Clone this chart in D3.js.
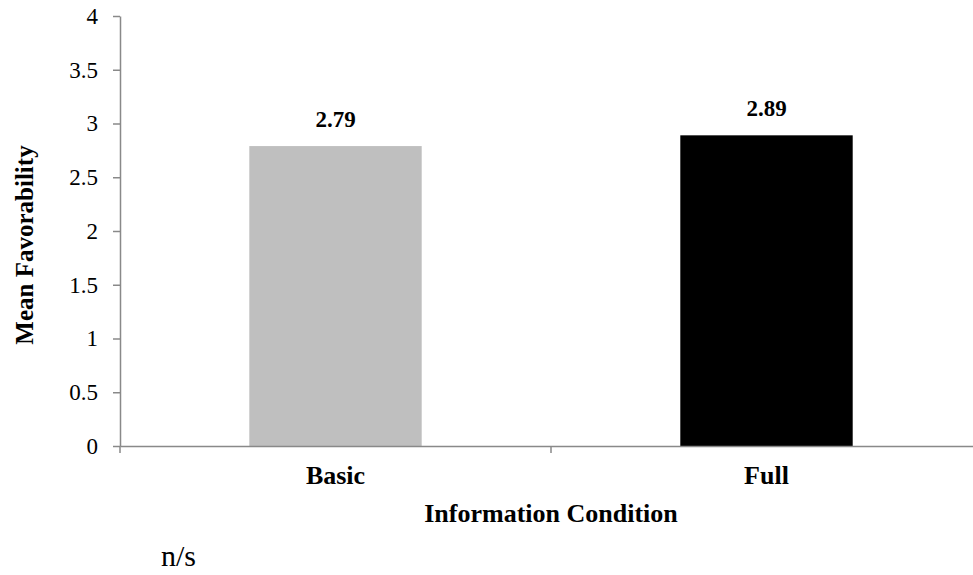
<!DOCTYPE html>
<html>
<head>
<meta charset="utf-8">
<script src="https://cdn.jsdelivr.net/npm/d3@7"></script>
<style>
  html, body { margin: 0; padding: 0; background: #fff; }
  svg { display: block; font-family: "Liberation Serif", "DejaVu Serif", serif; }
  svg text { font-family: "Liberation Serif", "DejaVu Serif", serif; }
</style>
</head>
<body>
<svg id="chart" width="973" height="575"></svg>
<script>
const categories = ["Basic", "Full"];
const meanFavorability = [2.79, 2.89];
const valueLabels = ["2.79", "2.89"];
const barColors = ["#bfbfbf", "#000000"];
const yTicks = [0, 0.5, 1, 1.5, 2, 2.5, 3, 3.5, 4];
const yTickLabels = ["0", "0.5", "1", "1.5", "2", "2.5", "3", "3.5", "4"];
const yTitle = "Mean Favorability";
const xTitle = "Information Condition";
const footnote = "n/s";

const svg = d3.select("#chart");
const mLeft = 120, mRight = 982, mTop = 16, mBottom = 446;
const axisColor = "#898989";

const x = d3.scaleBand().domain(categories).range([mLeft, mRight]).padding(0);
const y = d3.scaleLinear().domain([0, 4]).range([mBottom, mTop]);

// bars
svg.append("g").selectAll("rect")
  .data(categories)
  .join("rect")
  .attr("x", d => x(d) + x.bandwidth() * 0.3)
  .attr("width", x.bandwidth() * 0.4)
  .attr("y", (d, i) => y(meanFavorability[i]))
  .attr("height", (d, i) => y(0) - y(meanFavorability[i]))
  .attr("fill", (d, i) => barColors[i]);

// y axis
const yAxis = svg.append("g")
  .attr("transform", `translate(${mLeft},0)`)
  .call(d3.axisLeft(y).tickValues(yTicks).tickFormat((d, i) => yTickLabels[i]).tickSize(7).tickPadding(15).tickSizeOuter(0));
yAxis.attr("font-family", null).attr("font-size", null);
yAxis.select(".domain").attr("stroke", axisColor).attr("stroke-width", 1.5);
yAxis.selectAll(".tick line").attr("stroke", axisColor).attr("stroke-width", 1.5);
yAxis.selectAll(".tick text")
  .style("font-size", "23px")
  .style("font-family", "'Liberation Serif', serif")
  .attr("fill", "#000");

// x axis
const xAxis = svg.append("g")
  .attr("transform", `translate(0,${mBottom})`)
  .call(d3.axisBottom(x).tickSize(0).tickFormat(""));
xAxis.select(".domain").attr("stroke", axisColor).attr("stroke-width", 1.5);
const xBoundaries = [mLeft, x("Full"), mRight];
svg.append("g").selectAll("line")
  .data(xBoundaries)
  .join("line")
  .attr("x1", d => d).attr("x2", d => d)
  .attr("y1", mBottom).attr("y2", mBottom + 7)
  .attr("stroke", axisColor).attr("stroke-width", 1.5);

// category labels
svg.append("g").selectAll("text")
  .data(categories)
  .join("text")
  .attr("x", d => x(d) + x.bandwidth() / 2)
  .attr("y", 484)
  .attr("text-anchor", "middle")
  .style("font-size", "26px")
  .attr("font-weight", "bold")
  .text(d => d);

// value labels
svg.append("g").selectAll("text")
  .data(categories)
  .join("text")
  .attr("x", d => x(d) + x.bandwidth() / 2)
  .attr("y", (d, i) => y(meanFavorability[i]) - 19)
  .attr("text-anchor", "middle")
  .style("font-size", "23px")
  .attr("font-weight", "bold")
  .text((d, i) => valueLabels[i]);

// x title
svg.append("text")
  .attr("x", x("Full"))
  .attr("y", 522)
  .attr("text-anchor", "middle")
  .style("font-size", "26px")
  .attr("font-weight", "bold")
  .text(xTitle);

// y title
svg.append("text")
  .attr("transform", `translate(33,245) rotate(-90)`)
  .attr("text-anchor", "middle")
  .style("font-size", "25px")
  .attr("font-weight", "bold")
  .text(yTitle);

// footnote
svg.append("text")
  .attr("x", 161)
  .attr("y", 566)
  .style("font-size", "30px")
  .text(footnote);
</script>
</body>
</html>
